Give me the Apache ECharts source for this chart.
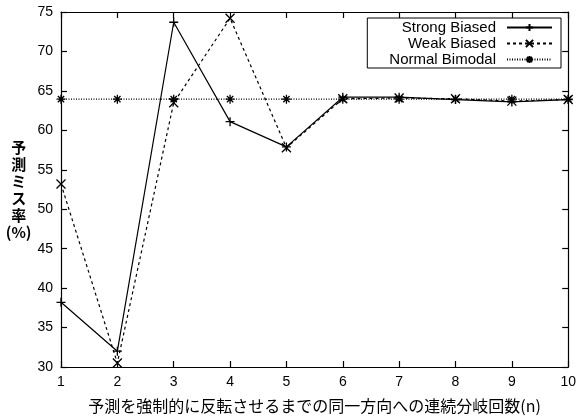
<!DOCTYPE html>
<html>
<head>
<meta charset="utf-8">
<script src="https://cdn.jsdelivr.net/npm/echarts@6/dist/echarts.min.js"></script>
<style>
  html, body { margin: 0; padding: 0; background: #fff; }
  #chart { width: 579px; height: 419px; }
</style>
</head>
<body>
<div id="chart"></div>
<script>
// 連続分岐回数 n
const nValues = [1, 2, 3, 4, 5, 6, 7, 8, 9, 10];
// 予測ミス率 (%)
const strongBiased = [38.2, 32.0, 73.7, 61.1, 57.9, 64.2, 64.2, 63.9, 63.6, 63.9];
const weakBiased = [53.2, 30.5, 63.5, 74.2, 57.8, 64.0, 64.1, 64.0, 63.7, 63.9];
const normalBimodal = [63.95, 63.95, 63.95, 63.95, 63.95, 63.95, 63.95, 63.95, 63.95, 63.95];

const plusSym = "path://M5,0L5,10M0,5L10,5";
const crossSym = "path://M0,0L10,10M10,0L0,10";
const starSym = "path://M5,0L5,10M0,5L10,5M1.5,1.5L8.5,8.5M8.5,1.5L1.5,8.5";

const pairs = (ys) => nValues.map((x, i) => [x, ys[i]]);

const chart = echarts.init(document.getElementById("chart"));

const baseAxis = {
  axisLine: { show: true, lineStyle: { color: "#000", width: 1.2 } },
  axisTick: { show: true, inside: true, length: 6, lineStyle: { color: "#000", width: 1.2 } },
  splitLine: { show: false },
  axisLabel: { color: "#000", fontFamily: "Liberation Sans", fontSize: 14 },
};

const mkSeries = (name, ys, type, sym) => ({
  name,
  type: "line",
  data: pairs(ys),
  symbol: sym,
  symbolSize: 9,
  showSymbol: true,
  lineStyle: { color: "#000", width: 1.2, type },
  itemStyle: { color: "none", borderColor: "#000", borderWidth: 1.3 },
  emphasis: { disabled: true },
  animation: false,
});

chart.setOption({
  animation: false,
  grid: { left: 61, right: 9, top: 12, bottom: 45 },
  legend: {
    right: 18,
    top: 18,
    orient: "vertical",
    align: "right",
    itemWidth: 45,
    itemHeight: 9,
    itemGap: 1,
    padding: [2, 8, 1, 22],
    borderColor: "#000",
    borderWidth: 1,
    backgroundColor: "#fff",
    textStyle: { color: "#000", fontFamily: "Liberation Sans", fontSize: 15, padding: [0, 6, 0, 0] },
    data: ["Strong Biased", "Weak Biased", "Normal Bimodal"],
  },
  xAxis: [
    {
      ...baseAxis,
      type: "value",
      min: 1,
      max: 10,
      interval: 1,
      axisLabel: { ...baseAxis.axisLabel, margin: 8 },
      name: "予測を強制的に反転させるまでの同一方向への連続分岐回数(n)",
      nameLocation: "middle",
      nameGap: 31,
      nameTextStyle: { color: "#000", fontFamily: "Noto Sans CJK JP", fontSize: 16 },
    },
    {
      ...baseAxis,
      type: "value",
      position: "top",
      min: 1,
      max: 10,
      interval: 1,
      axisLabel: { show: false },
    },
  ],
  yAxis: [
    {
      ...baseAxis,
      type: "value",
      min: 30,
      max: 75,
      interval: 5,
      axisLabel: { ...baseAxis.axisLabel, margin: 8 },
      name: "予\n測\nミ\nス\n率\n(%)",
      nameLocation: "middle",
      nameRotate: 0,
      nameGap: 41,
      nameTextStyle: {
        color: "#000",
        fontFamily: "Noto Sans CJK JP",
        fontSize: 15,
        fontWeight: "bold",
        lineHeight: 17,
        align: "center",
        padding: [0, 0, 26, 0],
      },
    },
    {
      ...baseAxis,
      type: "value",
      position: "right",
      min: 30,
      max: 75,
      interval: 5,
      axisLabel: { show: false },
    },
  ],
  series: [
    mkSeries("Strong Biased", strongBiased, "solid", plusSym),
    mkSeries("Weak Biased", weakBiased, [3, 3], crossSym),
    mkSeries("Normal Bimodal", normalBimodal, [1, 1.5], starSym),
  ],
});
</script>
</body>
</html>
